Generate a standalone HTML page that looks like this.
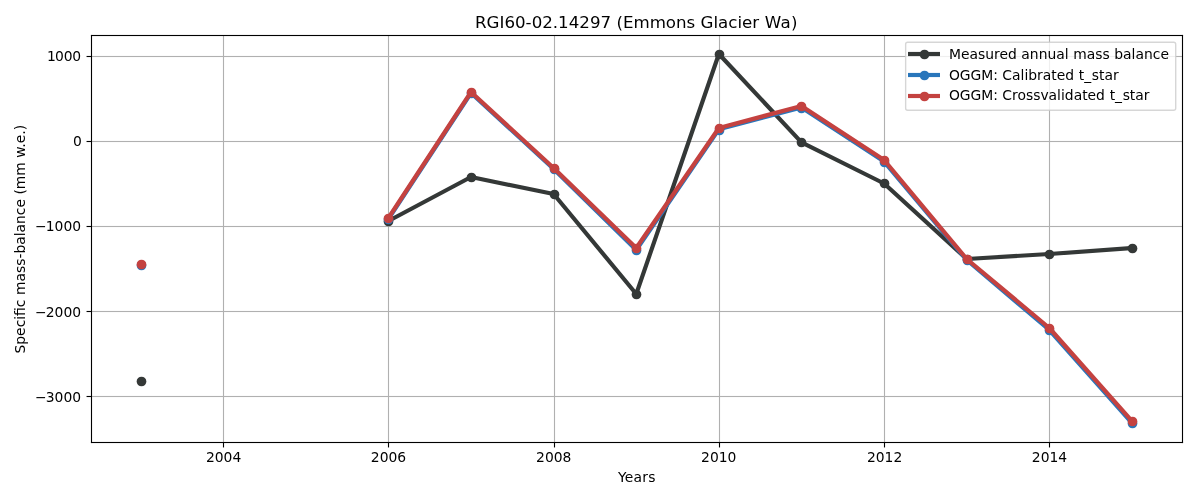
<!DOCTYPE html>
<html lang="en"><head><meta charset="utf-8"><title>RGI60-02.14297 (Emmons Glacier Wa)</title>
<style>html,body{margin:0;padding:0;background:#fff}body{width:1200px;height:500px;overflow:hidden}svg{display:block}text{font-family:"DejaVu Sans","Liberation Sans",sans-serif;fill:#000}</style></head><body>
<svg width="1200" height="500" viewBox="0 0 1200 500">
<rect width="1200" height="500" fill="#fff"/>
<g fill="#b0b0b0">
<rect x="222.945" y="36" width="1.11" height="406"/>
<rect x="387.945" y="36" width="1.11" height="406"/>
<rect x="553.945" y="36" width="1.11" height="406"/>
<rect x="718.945" y="36" width="1.11" height="406"/>
<rect x="883.945" y="36" width="1.11" height="406"/>
<rect x="1048.945" y="36" width="1.11" height="406"/>
<rect x="92" y="55.945" width="1090" height="1.11"/>
<rect x="92" y="140.945" width="1090" height="1.11"/>
<rect x="92" y="225.945" width="1090" height="1.11"/>
<rect x="92" y="310.945" width="1090" height="1.11"/>
<rect x="92" y="395.945" width="1090" height="1.11"/>
</g>
<polyline points="388.39,221.00 471.01,177.00 553.63,194.00 636.25,294.00 718.87,54.00 801.48,142.30 884.10,183.50 966.72,259.00 1049.34,254.00 1131.96,248.00" fill="none" stroke="#343837" stroke-width="4.17" stroke-linejoin="round" stroke-linecap="square"/>
<g fill="#343837"><circle cx="141.5" cy="381.5" r="4.86"/><circle cx="388.5" cy="221.5" r="4.86"/><circle cx="471.5" cy="177.5" r="4.86"/><circle cx="554.5" cy="194.5" r="4.86"/><circle cx="636.5" cy="294.5" r="4.86"/><circle cx="719.5" cy="54.5" r="4.86"/><circle cx="801.5" cy="142.5" r="4.86"/><circle cx="884.5" cy="183.5" r="4.86"/><circle cx="967.5" cy="259.5" r="4.86"/><circle cx="1049.5" cy="254.5" r="4.86"/><circle cx="1132.5" cy="248.5" r="4.86"/></g>
<polyline points="388.39,219.00 471.01,93.00 553.63,169.00 636.25,250.00 718.87,129.30 801.48,107.40 884.10,161.60 966.72,260.00 1049.34,330.00 1131.96,423.00" fill="none" stroke="#2976bb" stroke-width="4.17" stroke-linejoin="round" stroke-linecap="square"/>
<g fill="#2976bb"><circle cx="141.5" cy="265.5" r="4.86"/><circle cx="388.5" cy="219.5" r="4.86"/><circle cx="471.5" cy="93.5" r="4.86"/><circle cx="554.5" cy="169.5" r="4.86"/><circle cx="636.5" cy="250.5" r="4.86"/><circle cx="719.5" cy="130.5" r="4.86"/><circle cx="801.5" cy="108.5" r="4.86"/><circle cx="884.5" cy="162.5" r="4.86"/><circle cx="967.5" cy="260.5" r="4.86"/><circle cx="1049.5" cy="330.5" r="4.86"/><circle cx="1132.5" cy="423.5" r="4.86"/></g>
<polyline points="388.39,218.00 471.01,92.00 553.63,168.00 636.25,248.00 718.87,128.00 801.48,106.00 884.10,160.00 966.72,259.00 1049.34,328.00 1131.96,421.00" fill="none" stroke="#c44240" stroke-width="4.17" stroke-linejoin="round" stroke-linecap="square"/>
<g fill="#c44240"><circle cx="141.5" cy="264.5" r="4.86"/><circle cx="388.5" cy="218.5" r="4.86"/><circle cx="471.5" cy="92.5" r="4.86"/><circle cx="554.5" cy="168.5" r="4.86"/><circle cx="636.5" cy="248.5" r="4.86"/><circle cx="719.5" cy="128.5" r="4.86"/><circle cx="801.5" cy="106.5" r="4.86"/><circle cx="884.5" cy="160.5" r="4.86"/><circle cx="967.5" cy="259.5" r="4.86"/><circle cx="1049.5" cy="328.5" r="4.86"/><circle cx="1132.5" cy="421.5" r="4.86"/></g>
<g fill="#000">
<rect x="90.945" y="34.945" width="1092.11" height="1.11"/><rect x="90.945" y="441.945" width="1092.11" height="1.11"/>
<rect x="90.945" y="34.945" width="1.11" height="408.11"/><rect x="1181.945" y="34.945" width="1.11" height="408.11"/>
<rect x="222.945" y="443" width="1.11" height="4.45"/>
<rect x="387.945" y="443" width="1.11" height="4.45"/>
<rect x="553.945" y="443" width="1.11" height="4.45"/>
<rect x="718.945" y="443" width="1.11" height="4.45"/>
<rect x="883.945" y="443" width="1.11" height="4.45"/>
<rect x="1048.945" y="443" width="1.11" height="4.45"/>
<rect x="86.55" y="55.945" width="4.45" height="1.11"/>
<rect x="86.55" y="140.945" width="4.45" height="1.11"/>
<rect x="86.55" y="225.945" width="4.45" height="1.11"/>
<rect x="86.55" y="310.945" width="4.45" height="1.11"/>
<rect x="86.55" y="395.945" width="4.45" height="1.11"/>
</g>
<g font-size="13.889px" text-anchor="middle">
<text x="223.6" y="462">2004</text>
<text x="388.5" y="462">2006</text>
<text x="553.75" y="462">2008</text>
<text x="718.75" y="462">2010</text>
<text x="884.6" y="462">2012</text>
<text x="1049.5" y="462">2014</text>
<text x="636.7" y="481.8" textLength="37.6">Years</text>
</g>
<g font-size="13.889px" text-anchor="end">
<text x="79.9" y="61" dx="1.2 -0.7 -0.25 -0.25">1000</text>
<text x="81.85" y="146">0</text>
<text x="80.3" y="231"><tspan dx="0.8">−</tspan><tspan dx="-0.8">1000</tspan></text>
<text x="80.3" y="317"><tspan dx="0.8">−</tspan><tspan dx="-0.8">2000</tspan></text>
<text x="80.3" y="402"><tspan dx="0.8">−</tspan><tspan dx="-0.8">3000</tspan></text>
</g>
<text font-size="13.889px" text-anchor="middle" transform="translate(24.8,239.2) rotate(-90)">Specific mass-balance (mm w.e.)</text>
<text font-size="16.667px" text-anchor="middle" x="636.3" y="28">RGI60-02.14297 (Emmons Glacier <tspan dx="0.3">W</tspan><tspan dx="0.3">a</tspan><tspan dx="0.3">)</tspan></text>
<rect x="905.65" y="42.3" width="270.05" height="68" rx="2" ry="2" fill="#fff" fill-opacity="0.8" stroke="#ccc" stroke-opacity="0.8" stroke-width="1.39"/>
<line x1="910.1" x2="937.9" y1="54" y2="54" stroke="#343837" stroke-width="4.17" stroke-linecap="square"/><circle cx="924.5" cy="54.5" r="4.86" fill="#343837"/>
<text font-size="13.889px" x="948.9" y="58.7" textLength="220.1">Measured annual mass balance</text>
<line x1="910.1" x2="937.9" y1="75" y2="75" stroke="#2976bb" stroke-width="4.17" stroke-linecap="square"/><circle cx="924.5" cy="75.5" r="4.86" fill="#2976bb"/>
<text font-size="13.889px" x="948.9" y="79.6">OGGM: Calibrated <tspan dx="0.3">t_</tspan><tspan dx="0.6">star</tspan></text>
<line x1="910.1" x2="937.9" y1="96" y2="96" stroke="#c44240" stroke-width="4.17" stroke-linecap="square"/><circle cx="924.5" cy="96.5" r="4.86" fill="#c44240"/>
<text font-size="13.889px" x="948.9" y="100.4">OGGM: Crossvalidated <tspan dx="0.3">t_</tspan><tspan dx="0.6">star</tspan></text>
</svg></body></html>
